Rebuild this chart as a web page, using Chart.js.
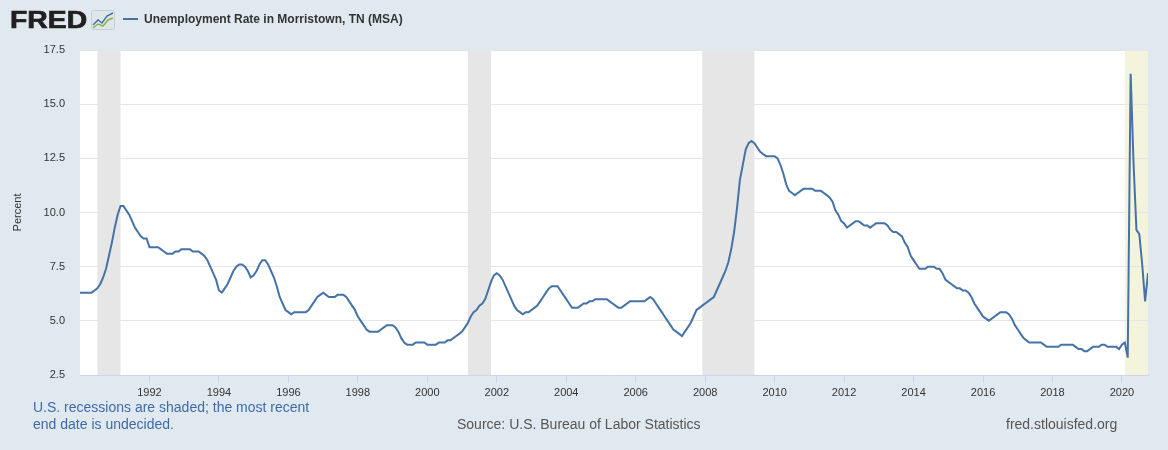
<!DOCTYPE html>
<html>
<head>
<meta charset="utf-8">
<style>
  body { margin: 0; background: #e1e9f0; font-family: "Liberation Sans", Arial, sans-serif; }
  #wrap { position: relative; width: 1168px; height: 450px; overflow: hidden; }
  #chart { position: absolute; left: 0; top: 0; }
  .logo { position: absolute; left: 10px; top: 6px; font-size: 24px; line-height: 28px; font-weight: bold; color: #231f20;
          transform: scaleX(1.18); transform-origin: left top; -webkit-text-stroke: 0.7px #231f20; }
  .icon { position: absolute; left: 91px; top: 10px; }
  .legend { position: absolute; left: 123px; top: 12px; font-size: 12px; font-weight: bold; color: #333; }
  .legend i { display: inline-block; width: 15px; height: 2px; background: #4572a7; vertical-align: middle; margin-right: 6px; position: relative; top: -1px; }
  .note { position: absolute; left: 33px; top: 399px; font-size: 14px; line-height: 17px; color: #3e6aa8; }
  .source { position: absolute; left: 457px; top: 416px; font-size: 14px; color: #555; }
  .site { position: absolute; left: 1006px; top: 416px; font-size: 14px; color: #555; }
</style>
</head>
<body>
<div id="wrap">
  <canvas id="chart" width="1168" height="450"></canvas>
  <div class="logo">FRED</div>
  <svg class="icon" width="24" height="20" viewBox="0 0 24 20">
    <rect x="0.5" y="0.5" width="23" height="19" rx="2" fill="#dfe6ea" stroke="#c8d0d6"/>
    <polyline points="2,15 7,10 11,13 16,6 22,3" fill="none" stroke="#4572a7" stroke-width="1.5"/>
    <polyline points="2,18 7,14 12,16 17,10 22,8" fill="none" stroke="#8bb34a" stroke-width="1.5"/>
  </svg>
  <div class="legend"><i></i>Unemployment Rate in Morristown, TN (MSA)</div>
  <div class="note">U.S. recessions are shaded; the most recent<br>end date is undecided.</div>
  <div class="source">Source: U.S. Bureau of Labor Statistics</div>
  <div class="site">fred.stlouisfed.org</div>
</div>
<script src="https://cdn.jsdelivr.net/npm/chart.js"></script>
<script>
// monthly unemployment rate, Jan 1990 .. Oct 2020
const firstYear = 1990;
const rates1990s = [
  6.3,6.3,6.3,6.3,6.3,6.4,6.5,6.7,7.0,7.4,8.0,8.6,
  9.3,9.9,10.3,10.3,10.1,9.9,9.6,9.3,9.1,8.9,8.8,8.8,
  8.4,8.4,8.4,8.4,8.3,8.2,8.1,8.1,8.1,8.2,8.2,8.3,
  8.3,8.3,8.3,8.2,8.2,8.2,8.1,8.0,7.8,7.5,7.2,6.9,
  6.4,6.3,6.5,6.7,7.0,7.3,7.5,7.6,7.6,7.5,7.3,7.0,
  7.1,7.3,7.6,7.8,7.8,7.6,7.3,7.0,6.6,6.1,5.8,5.5,
  5.4,5.3,5.4,5.4,5.4,5.4,5.4,5.5,5.7,5.9,6.1,6.2,
  6.3,6.2,6.1,6.1,6.1,6.2,6.2,6.2,6.1,5.9,5.7,5.5,
  5.2,5.0,4.8,4.6,4.5,4.5,4.5,4.5,4.6,4.7,4.8,4.8,
  4.8,4.7,4.5,4.2,4.0,3.9,3.9,3.9,4.0,4.0,4.0,4.0
];
const rates2000s = [
  3.9,3.9,3.9,3.9,4.0,4.0,4.0,4.1,4.1,4.2,4.3,4.4,
  4.5,4.7,4.9,5.2,5.4,5.5,5.7,5.8,6.0,6.4,6.8,7.1,
  7.2,7.1,6.9,6.6,6.3,6.0,5.7,5.5,5.4,5.3,5.4,5.4,
  5.5,5.6,5.7,5.9,6.1,6.3,6.5,6.6,6.6,6.6,6.4,6.2,
  6.0,5.8,5.6,5.6,5.6,5.7,5.8,5.8,5.9,5.9,6.0,6.0,
  6.0,6.0,6.0,5.9,5.8,5.7,5.6,5.6,5.7,5.8,5.9,5.9,
  5.9,5.9,5.9,5.9,6.0,6.1,6.0,5.8,5.6,5.4,5.2,5.0,
  4.8,4.6,4.5,4.4,4.3,4.5,4.7,4.9,5.2,5.5,5.6,5.7,
  5.8,5.9,6.0,6.1,6.4,6.7,7.0,7.3,7.7,8.3,9.1,10.2,
  11.5,12.2,12.9,13.2,13.3,13.2,13.0,12.8,12.7,12.6,12.6,12.6
];
const rates2010s = [
  12.6,12.5,12.2,11.8,11.3,11.0,10.9,10.8,10.9,11.0,11.1,11.1,
  11.1,11.1,11.0,11.0,11.0,10.9,10.8,10.7,10.5,10.1,9.9,9.6,
  9.5,9.3,9.4,9.5,9.6,9.6,9.5,9.4,9.4,9.3,9.4,9.5,
  9.5,9.5,9.5,9.4,9.2,9.1,9.1,9.0,8.9,8.6,8.4,8.0,
  7.8,7.6,7.4,7.4,7.4,7.5,7.5,7.5,7.4,7.4,7.2,6.9,
  6.8,6.7,6.6,6.5,6.5,6.4,6.4,6.3,6.1,5.8,5.6,5.4,
  5.2,5.1,5.0,5.1,5.2,5.3,5.4,5.4,5.4,5.3,5.1,4.8,
  4.6,4.4,4.2,4.1,4.0,4.0,4.0,4.0,4.0,3.9,3.8,3.8,
  3.8,3.8,3.8,3.9,3.9,3.9,3.9,3.9,3.8,3.7,3.7,3.6,
  3.6,3.7,3.8,3.8,3.8,3.9,3.9,3.8,3.8,3.8,3.8,3.7
];
const rates2020 = [3.9,4.0,3.3,16.4,12.3,9.2,9.0,7.6,5.9,7.2];

// recessions as [start, end] year-month; last one has no end yet
const recessions = [["1990-07","1991-03"], ["2001-03","2001-11"], ["2007-12","2009-06"]];
const openRecession = "2020-02";

const xTicks = [1992,1994,1996,1998,2000,2002,2004,2006,2008,2010,2012,2014,2016,2018,2020];
const yTicks = [2.5,5.0,7.5,10.0,12.5,15.0,17.5];

const rates = rates1990s.concat(rates2000s, rates2010s, rates2020);
const points = rates.map((v, i) => ({ x: firstYear + i / 12, y: v }));
const lastX = firstYear + (rates.length - 1) / 12;

function ym(s) {
  const p = s.split("-");
  return +p[0] + (+p[1] - 1) / 12;
}

const bands = {
  id: "bands",
  beforeDraw(chart) {
    const { ctx, chartArea: a, scales: { x } } = chart;
    ctx.save();
    ctx.fillStyle = "#ffffff";
    ctx.fillRect(a.left, a.top, a.right - a.left, a.bottom - a.top);
    ctx.fillStyle = "#e6e6e6";
    recessions.forEach(r => {
      const x1 = x.getPixelForValue(ym(r[0]));
      const x2 = x.getPixelForValue(ym(r[1]));
      ctx.fillRect(x1, a.top, x2 - x1, a.bottom - a.top);
    });
    ctx.fillStyle = "#f4f3dc";
    const xs = x.getPixelForValue(ym(openRecession));
    ctx.fillRect(xs, a.top, a.right - xs, a.bottom - a.top);
    ctx.restore();
  }
};

new Chart(document.getElementById("chart"), {
  type: "line",
  data: {
    datasets: [{
      data: points,
      borderColor: "#4572a7",
      borderWidth: 2,
      pointRadius: 0,
      tension: 0,
      fill: false
    }]
  },
  options: {
    responsive: false,
    animation: false,
    layout: { padding: { left: 0, top: 50, right: 20, bottom: 45 } },
    plugins: { legend: { display: false }, tooltip: { enabled: false } },
    scales: {
      x: {
        type: "linear",
        min: firstYear,
        max: lastX,
        afterFit(s) { s.height = 30; },
        afterBuildTicks(s) { s.ticks = xTicks.map(v => ({ value: v })); },
        grid: { drawOnChartArea: false, drawTicks: true, tickLength: 8, color: "#ccd6eb" },
        border: { color: "#ccd6eb" },
        ticks: {
          padding: 3,
          maxRotation: 0,
          autoSkip: false,
          color: "#333",
          font: { family: "Liberation Sans", size: 11 },
          callback: v => String(v)
        }
      },
      y: {
        min: 2.5,
        max: 17.5,
        afterFit(s) { s.width = 80; },
        afterBuildTicks(s) { s.ticks = yTicks.map(v => ({ value: v })); },
        grid: { color: "#e6e6e6", drawTicks: false },
        border: { display: false },
        ticks: {
          padding: 15,
          color: "#333",
          font: { family: "Liberation Sans", size: 11 },
          callback: v => v.toFixed(1)
        },
        title: {
          display: true,
          text: "Percent",
          color: "#333",
          font: { family: "Liberation Sans", size: 11 },
          padding: { top: 11, bottom: 0 }
        }
      }
    }
  },
  plugins: [bands]
});
</script>
</body>
</html>
